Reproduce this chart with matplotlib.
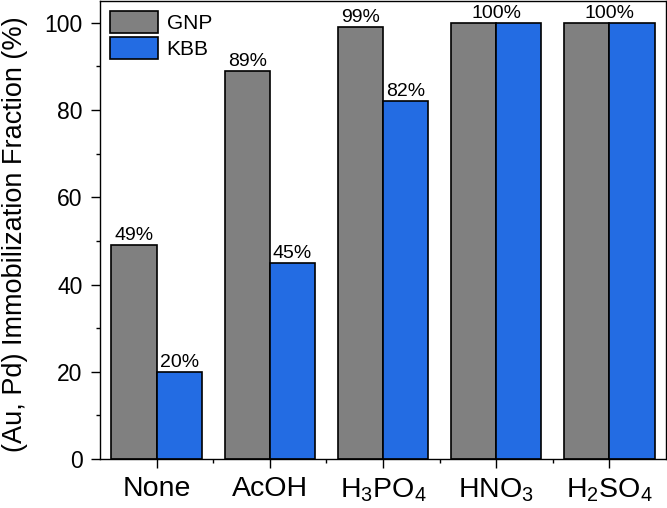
import numpy as np
import matplotlib
matplotlib.use('Agg')
import matplotlib.pyplot as plt
from matplotlib.ticker import MultipleLocator

plt.rcParams['font.family'] = ['Liberation Sans', 'DejaVu Sans']
plt.rcParams['mathtext.fontset'] = 'custom'
plt.rcParams['mathtext.rm'] = 'Liberation Sans'

categories = ['None', 'AcOH', r'H$_3$PO$_4$', r'HNO$_3$', r'H$_2$SO$_4$']
gnp = [49, 89, 99, 100, 100]
kbb = [20, 45, 82, 100, 100]

x = np.arange(len(categories))
w = 0.40

fig = plt.figure(figsize=(6.67, 5.08), dpi=100)
ax = fig.add_axes([0.150, 0.0965, 0.8485, 0.9015])

ax.bar(x - w / 2, gnp, w, color='#808080', edgecolor='black', linewidth=1.2, label='GNP')
ax.bar(x + w / 2, kbb, w, color='#236ce3', edgecolor='black', linewidth=1.2, label='KBB')

# one label per bar, or one centred label when both bars are equal
for i in range(len(categories)):
    if gnp[i] == kbb[i]:
        ax.text(x[i], gnp[i] + 0.2, f'{gnp[i]}%', ha='center', va='bottom', fontsize=14)
    else:
        ax.text(x[i] - w / 2, gnp[i] + 0.2, f'{gnp[i]}%', ha='center', va='bottom', fontsize=14)
        ax.text(x[i] + w / 2, kbb[i] + 0.2, f'{kbb[i]}%', ha='center', va='bottom', fontsize=14)

ax.set_xlim(-0.5, 4.5)
ax.set_ylim(0, 105)
ax.set_xticks(x)
ax.set_xticklabels(categories, fontsize=20.5)
ax.set_xticks(x[:-1] + 0.5, minor=True)
ax.yaxis.set_major_locator(MultipleLocator(20))
ax.yaxis.set_minor_locator(MultipleLocator(10))
ax.tick_params(axis='y', which='major', labelsize=16.5, length=6.5, width=1, direction='out', pad=6)
ax.tick_params(axis='y', which='minor', length=3, width=1, direction='out')
ax.tick_params(axis='x', which='major', length=6.5, width=1, direction='out', pad=6)
ax.tick_params(axis='x', which='minor', length=3, width=1, direction='out')
ax.set_ylabel('(Au, Pd) Immobilization Fraction (%)', fontsize=19.5)
ax.yaxis.set_label_coords(-0.128, 0.49)

for s in ax.spines.values():
    s.set_linewidth(1)

ax.legend(loc='upper left', frameon=False, fontsize=15, handlelength=2.3, handleheight=1.25,
          handletextpad=0.4, labelspacing=0.15, borderaxespad=0.3, borderpad=0.2)

fig.savefig('out.png', dpi=100)
